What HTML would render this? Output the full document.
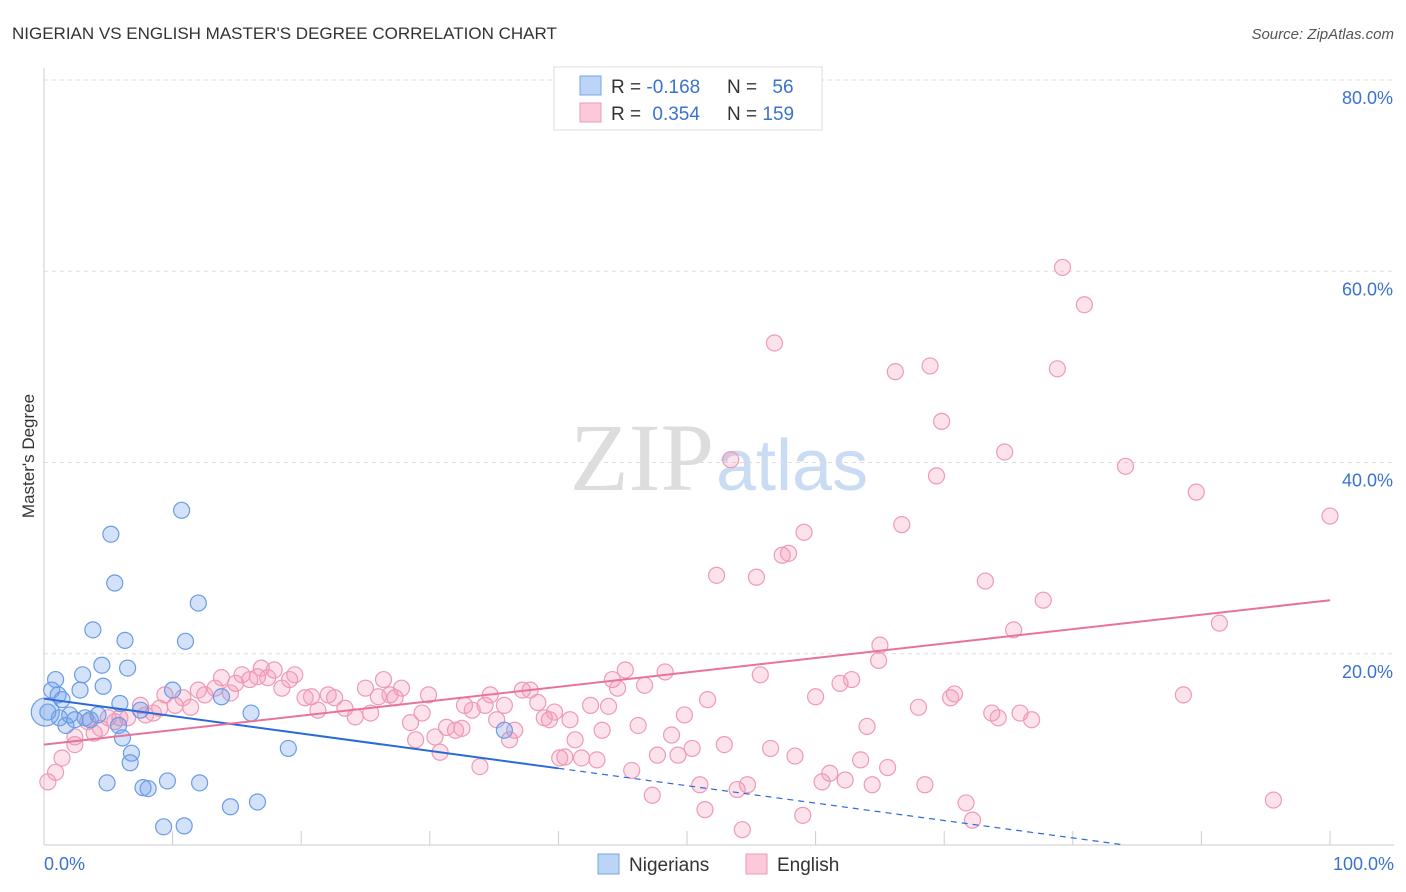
<!DOCTYPE html>
<html><head><meta charset="utf-8"><style>
body{margin:0;background:#fff;font-family:"Liberation Sans",sans-serif;}
svg{display:block}
</style></head><body>
<svg id="chart" width="1406" height="892">
<text x="12" y="39" font-size="17" fill="#333">NIGERIAN VS ENGLISH MASTER'S DEGREE CORRELATION CHART</text>
<text x="1394" y="39" font-size="15" fill="#555" font-style="italic" text-anchor="end">Source: ZipAtlas.com</text>
<text x="714" y="490" font-size="96" fill="#ddd" font-family="Liberation Serif,serif" text-anchor="end">ZIP</text>
<text x="716" y="490" font-size="72" fill="#c9dcf3">atlas</text>
<text transform="translate(34,456) rotate(-90)" font-size="17" fill="#333" text-anchor="middle">Master's Degree</text>
<g id="grid"></g><g id="pts"></g><g id="lines"></g>
<g>
<rect x="554" y="67" width="268" height="63" fill="#fff" stroke="#ddd"/>
<rect x="580" y="76" width="21" height="19" fill="#bcd4f6" stroke="#7aa6e6"/>
<rect x="580" y="103" width="21" height="19" fill="#fbc9d8" stroke="#ec9ab5"/>
<text x="611" y="93" font-size="19" fill="#333">R = <tspan fill="#3a72d0">-0.168</tspan></text>
<text x="727" y="93" font-size="19" fill="#333">N = <tspan fill="#3a72d0" dx="10">56</tspan></text>
<text x="611" y="120" font-size="19" fill="#333">R = <tspan fill="#3a72d0" dx="6">0.354</tspan></text>
<text x="727" y="120" font-size="19" fill="#333">N = <tspan fill="#3a72d0">159</tspan></text>
</g>
<g>
<rect x="598" y="854" width="21" height="20" fill="#bcd4f6" stroke="#7aa6e6"/>
<text x="629" y="871" font-size="19" fill="#333">Nigerians</text>
<rect x="746" y="854" width="21" height="20" fill="#fbc9d8" stroke="#ec9ab5"/>
<text x="777" y="871" font-size="19" fill="#333">English</text>
</g>
</svg>
<script>
const yTicks=[20,40,60,80];
const xTickLabels=["0.0%","100.0%"];
const blueX=[0.3,0.6,0.9,1.1,1.4,1.7,2.0,2.4,2.8,3.0,3.6,3.8,4.2,4.5,4.6,4.9,5.2,5.5,5.8,5.9,6.1,6.3,6.5,6.8,6.7,7.7,8.1,9.3,9.6,10.7,10.9,11.0,12.0,12.1,13.8,14.5,16.1,16.6,19.0,10.0,35.8,1.2,3.2,7.5,0.1];
const blueY=[13.9,16.2,17.3,15.7,15.2,12.5,13.6,13.1,16.2,17.8,13.1,22.5,13.6,18.8,16.6,6.5,32.5,27.4,12.5,14.8,11.2,21.4,18.5,9.6,8.6,6.0,5.9,1.9,6.7,35.0,2.0,21.3,25.3,6.5,15.5,4.0,13.8,4.5,10.1,16.2,12.0,13.3,13.3,14.1,13.9];
const pinkX=[0.3,0.9,1.4,2.4,2.4,3.4,3.9,4.4,5.0,5.5,5.9,6.5,7.5,7.9,8.5,9.0,9.4,10.2,10.8,11.4,12.0,12.5,13.3,13.8,14.5,14.9,15.4,16.0,16.6,16.9,17.4,17.9,18.5,19.1,19.5,20.3,21.3,20.8,22.1,22.6,23.4,24.2,25.0,25.4,26.0,26.4,26.9,27.3,27.8,28.5,28.9,29.4,29.9,30.4,30.8,31.3,32.0,32.5,32.7,33.3,33.9,34.3,34.7,35.2,35.8,36.2,36.6,37.2,37.8,38.4,38.9,39.3,39.7,40.1,40.5,40.9,41.3,41.8,42.5,43.0,43.4,43.9,44.2,44.6,45.2,45.7,46.2,46.7,47.3,47.7,48.3,48.8,49.3,49.8,50.4,51.0,51.4,51.6,52.3,52.9,53.4,53.9,54.3,54.7,55.4,55.7,56.5,56.8,57.4,57.9,58.4,59.0,59.1,60.0,60.5,61.1,61.9,62.3,62.8,63.5,64.0,64.4,65.0,64.9,65.6,66.2,66.7,68.0,68.5,68.9,69.4,69.8,70.5,70.8,71.7,72.2,73.2,73.7,74.2,74.7,75.4,75.9,76.8,77.7,78.8,79.2,80.9,84.1,88.6,89.6,91.4,95.6,100];
const pinkY=[6.6,7.6,9.1,10.5,11.3,12.9,11.7,12.2,13.3,12.9,13.3,13.3,14.6,13.6,13.8,14.3,15.7,14.6,15.4,14.4,16.2,15.7,16.4,17.5,15.9,16.9,17.8,17.3,17.6,18.5,17.5,18.3,16.4,17.3,17.8,15.4,14.1,15.5,15.7,15.4,14.3,13.4,16.4,13.8,15.5,17.3,15.7,15.4,16.4,12.8,11.0,13.8,15.7,11.3,9.7,12.3,12.0,12.2,14.6,14.1,8.2,14.6,15.7,13.1,14.6,11.0,12.0,16.2,16.2,14.9,13.3,13.1,13.9,9.1,9.2,13.1,11.0,9.1,14.6,8.9,12.0,14.5,17.3,16.4,18.3,7.8,12.5,16.7,5.2,9.4,18.1,11.5,9.4,13.6,10.1,6.3,3.7,15.2,28.2,10.5,40.3,5.8,1.6,6.3,28.0,17.8,10.1,52.5,30.3,30.5,9.3,3.1,32.7,15.5,6.6,7.5,16.9,6.8,17.3,8.9,12.4,6.3,20.9,19.3,8.1,49.5,33.5,14.4,6.3,50.1,38.6,44.3,15.4,15.8,4.4,2.6,27.6,13.8,13.3,41.1,22.5,13.8,13.1,25.6,49.8,60.4,56.5,39.6,15.7,36.9,23.2,4.7,34.4];
const blueTrend=[15.3,-2.9];
const pinkTrend=[10.5,25.6];
const sx=v=>44+v*12.86, sy=v=>845-v*9.5625;
const NS="http://www.w3.org/2000/svg";
function mk(tag,attrs,parent){const e=document.createElementNS(NS,tag);for(const k in attrs)e.setAttribute(k,attrs[k]);parent.appendChild(e);return e;}
const grid=document.getElementById('grid'),pts=document.getElementById('pts'),lines=document.getElementById('lines');
yTicks.forEach(t=>{
 const l=mk('line',{x1:44,x2:1394,y1:sy(t),y2:sy(t),stroke:'#ddd','stroke-dasharray':'4,4'},grid);
 
 
 const tx=mk('text',{x:1393,y:sy(t)+24,'font-size':18,fill:'#3a72d0','text-anchor':'end'},grid);
 tx.textContent=t.toFixed(1)+'%';
 
 
});
const ax=mk('line',{x1:44,x2:44,y1:68,y2:845,stroke:'#ccc'},grid);


const bx=mk('line',{x1:44,x2:1394,y1:845,y2:845,stroke:'#ccc'},grid);


for(let i=0;i<=10;i++){
 const t=mk('line',{x1:sx(i*10),x2:sx(i*10),y1:831,y2:845,stroke:'#ccc'},grid);
 
 
}
[[0,'start',44],[100,'end',1394]].forEach((d,i)=>{
 const tx=mk('text',{x:d[2],y:870,'font-size':18,fill:'#3a72d0','text-anchor':d[1]},grid);
 tx.textContent=xTickLabels[i];
 
 
});
pinkX.forEach((x,i)=>{
 const c=mk('circle',{cx:sx(x),cy:sy(pinkY[i]),r:8,fill:'rgba(244,150,182,0.28)',stroke:'#ee9ab7','stroke-width':1.2},pts);
 
 
});
blueX.forEach((x,i)=>{
 const c=mk('circle',{cx:sx(x),cy:sy(blueY[i]),r:i==blueX.length-1?14:8,fill:'rgba(110,160,235,0.3)',stroke:'#6b9be6','stroke-width':1.2},pts);
 
 
});
const bAt=x=>blueTrend[0]+(blueTrend[1]-blueTrend[0])*x/100;
const b1=mk('line',{x1:sx(0),y1:sy(bAt(0)),x2:sx(40),y2:sy(bAt(40)),stroke:'#2a6ad8','stroke-width':2},lines);


const xEnd=-blueTrend[0]/(blueTrend[1]-blueTrend[0])*100;
const b2=mk('line',{x1:sx(40),y1:sy(bAt(40)),x2:sx(xEnd),y2:sy(0),stroke:'#2a6ad8','stroke-width':1.2,'stroke-dasharray':'6,5'},lines);


const p1=mk('line',{x1:sx(0),y1:sy(pinkTrend[0]),x2:sx(100),y2:sy(pinkTrend[1]),stroke:'#e8739a','stroke-width':2},lines);


</script>
</body></html>
